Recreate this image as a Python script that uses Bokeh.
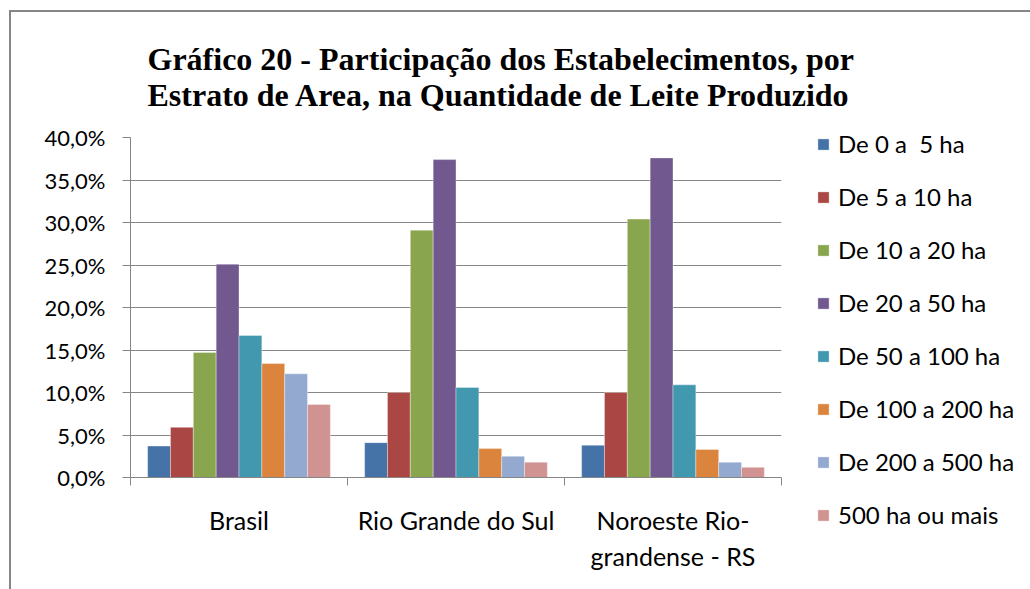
from bokeh.plotting import figure
from bokeh.models import (Range1d, FixedTicker, CustomJSTickFormatter, Legend, LegendItem,
                          Title, ColumnDataSource)
from bokeh.embed import file_html
from bokeh.resources import INLINE

categories = ["Brasil", "Rio Grande do Sul", "Noroeste Rio-\ngrandense - RS"]
series_names = ["De 0 a  5 ha", "De 5 a 10 ha", "De 10 a 20 ha", "De 20 a 50 ha",
                "De 50 a 100 ha", "De 100 a 200 ha", "De 200 a 500 ha", "500 ha ou mais"]
s_0_5 = [3.7, 4.1, 3.8]
s_5_10 = [5.9, 10.0, 10.0]
s_10_20 = [14.7, 29.1, 30.4]
s_20_50 = [25.1, 37.4, 37.6]
s_50_100 = [16.7, 10.6, 10.9]
s_100_200 = [13.4, 3.4, 3.3]
s_200_500 = [12.2, 2.5, 1.8]
s_500_plus = [8.6, 1.8, 1.2]
y_ticks = [0, 5, 10, 15, 20, 25, 30, 35, 40]
title_lines = ["Gráfico 20 - Participação dos Estabelecimentos, por",
               "Estrato de Area, na Quantidade de Leite Produzido"]

series = [s_0_5, s_5_10, s_10_20, s_20_50, s_50_100, s_100_200, s_200_500, s_500_plus]
colors = ["#4572A7", "#AA4643", "#89A54E", "#71588F", "#4198AF", "#DB843D", "#93A9CF", "#D19392"]

FONT = "Lato"
GREY = "#868686"

OX, OY = 11, 12  # canvas origin after css margin + border
W, H = 1030 - OX - 2, 589 - OY
p = figure(width=W, height=H, output_backend="svg", toolbar_location=None,
           x_range=Range1d(0, len(categories)), y_range=Range1d(0, 40),
           frame_width=651, frame_height=340)
p.styles = {"margin-left": "9px", "margin-top": "10px",
            "border-left": "2px solid #868686", "border-top": "2px solid #868686"}
p.min_border_left = 130 - OX
p.min_border_right = W - (781 - OX)
p.min_border_top = 137 - OY
p.min_border_bottom = H - (477 - OY)
p.outline_line_color = None
p.background_fill_color = "white"
p.border_fill_color = "white"

n = len(series)
bw = 1.0 / (n + 1.5)
items = []
for i, (vals, name, col) in enumerate(zip(series, series_names, colors)):
    xs = [k + 0.5 + (i - (n - 1) / 2) * bw for k in range(len(categories))]
    src = ColumnDataSource(dict(x=xs, top=vals))
    r = p.vbar(x="x", top="top", width=bw, bottom=0, source=src, fill_color=col,
               line_color="white", line_width=0.6, line_alpha=0.6)
    items.append(LegendItem(label=name, renderers=[r]))

# axes
p.xgrid.visible = False
p.ygrid.ticker = FixedTicker(ticks=y_ticks)
p.ygrid.grid_line_color = GREY
p.ygrid.grid_line_width = 1.2

yax = p.yaxis[0]
yax.ticker = FixedTicker(ticks=y_ticks)
yax.formatter = CustomJSTickFormatter(code="return tick.toFixed(1).replace('.', ',') + '%';")
yax.axis_line_color = GREY
yax.major_tick_line_color = GREY
yax.major_tick_in = 0
yax.major_tick_out = 8
yax.minor_tick_line_color = None
yax.major_label_text_font = FONT
yax.major_label_text_font_size = "22px"
yax.major_label_text_color = "black"
yax.major_label_standoff = 17

xax = p.xaxis[0]
xax.ticker = FixedTicker(ticks=[k + 0.5 for k in range(len(categories))],
                         minor_ticks=list(range(len(categories) + 1)))
xax.major_label_overrides = {k + 0.5: c for k, c in enumerate(categories)}
xax.axis_line_color = GREY
xax.major_tick_line_color = None
xax.major_tick_out = 0
xax.major_tick_in = 0
xax.minor_tick_line_color = GREY
xax.minor_tick_in = 0
xax.minor_tick_out = 8
xax.major_label_text_font = FONT
xax.major_label_text_font_size = "25px"
xax.major_label_text_color = "black"
xax.major_label_standoff = 19

legend = Legend(items=items, location="top_left")
legend.padding = 0
legend.margin = 0
legend.border_line_color = None
legend.background_fill_alpha = 0
legend.glyph_width = 14
legend.glyph_height = 14
legend.label_height = 16
legend.spacing = 24
legend.label_standoff = 8
legend.label_text_font = FONT
legend.label_text_font_size = "24px"
legend.label_text_color = "black"
legend.styles = {"margin-left": "35px", "margin-top": "-8px"}
p.add_layout(legend, "right")

# two-line title
title = Title(text="\n".join(title_lines), align="left", offset=17, standoff=50,
              text_font="Liberation Serif", text_font_style="bold",
              text_font_size="32px", text_color="black")
title.styles = {"margin-top": "-10px"}
p.add_layout(title, "above")

open("out.html", "w").write(file_html(p, INLINE))
